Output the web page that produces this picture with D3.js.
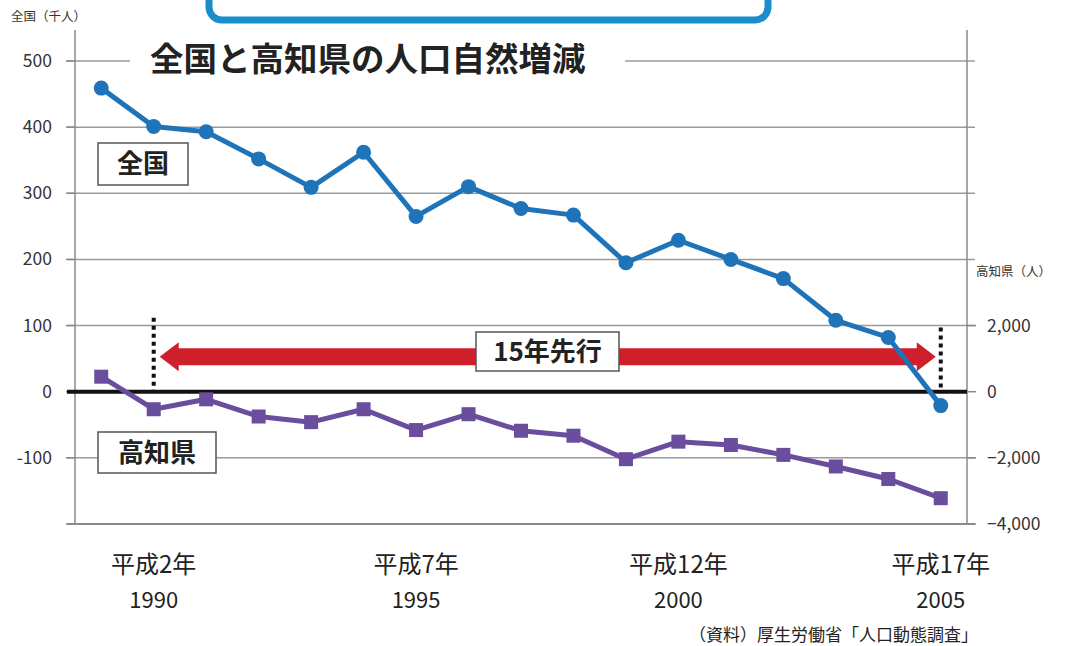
<!DOCTYPE html>
<html>
<head>
<meta charset="utf-8">
<script src="https://cdn.jsdelivr.net/npm/d3@7"></script>
<style>
  body { margin: 0; background: #fff; }
  svg { display: block; font-family: "Noto Sans CJK JP", "Noto Sans", sans-serif; }
</style>
</head>
<body>
<div id="chart"></div>
<script>
// data
var years = [1989, 1990, 1991, 1992, 1993, 1994, 1995, 1996, 1997, 1998, 1999, 2000, 2001, 2002, 2003, 2004, 2005];
var japanNat = [459, 401, 393, 352, 309, 362, 265, 310, 277, 267, 195, 229, 200, 171, 108, 82, -21];      // 千人
var kochiNat = [454, -530, -230, -750, -920, -530, -1160, -680, -1180, -1330, -2040, -1510, -1610, -1910, -2260, -2640, -3220]; // 人
var tickYears = [1990, 1995, 2000, 2005];
var tickEra = ["平成2年", "平成7年", "平成12年", "平成17年"];
var leftTicks = [500, 400, 300, 200, 100, 0, -100];
var leftMarks = [500, 400, 300, 200, 100, 0, -100, -200];
var rightTicks = [2000, 0, -2000, -4000];

var width = 1065, height = 646;
var plotL = 75, plotR = 967, plotT = 61, plotB = 524;

var svg = d3.select('#chart').append('svg')
  .attr('width', width)
  .attr('height', height);

var x = d3.scalePoint().domain(years).range([plotL, plotR]).padding(0.5);
var yL = d3.scaleLinear().domain([-200, 500]).range([plotB, plotT]);
var yR = d3.scaleLinear().domain([-4000, 10000]).range([plotB, plotT]);

var blue = "#1f74b9", purple = "#6b4d9e", red = "#cf1f2b";

// blue box at top (cut off)
svg.append('rect')
  .attr('x', 209).attr('y', -30).attr('width', 559).attr('height', 50)
  .attr('rx', 13)
  .attr('fill', 'none').attr('stroke', '#1c8dcc').attr('stroke-width', 7);

// gridlines
svg.selectAll('.grid').data([500, 400, 300, 200, 100, -100]).enter().append('line')
  .attr('class', 'grid')
  .attr('x1', plotL - 8).attr('x2', plotR + 8)
  .attr('y1', function (d) { return yL(d); })
  .attr('y2', function (d) { return yL(d); })
  .attr('stroke', '#9a9a9a').attr('stroke-width', 1.5);

// axes lines
svg.append('line').attr('x1', plotL).attr('x2', plotL).attr('y1', 30).attr('y2', plotB)
  .attr('stroke', '#8a8a8a').attr('stroke-width', 1.5);
svg.append('line').attr('x1', plotR).attr('x2', plotR).attr('y1', 30).attr('y2', plotB)
  .attr('stroke', '#8a8a8a').attr('stroke-width', 1.5);
svg.append('line').attr('x1', plotL - 8).attr('x2', plotR + 8).attr('y1', plotB).attr('y2', plotB)
  .attr('stroke', '#8a8a8a').attr('stroke-width', 2);

svg.selectAll('.ltick').data(leftMarks).enter().append('line')
  .attr('x1', plotL - 9).attr('x2', plotL)
  .attr('y1', function (d) { return yL(d); })
  .attr('y2', function (d) { return yL(d); })
  .attr('stroke', '#8a8a8a').attr('stroke-width', 1.5);
svg.selectAll('.rtick').data(rightTicks).enter().append('line')
  .attr('x1', plotR).attr('x2', plotR + 9)
  .attr('y1', function (d) { return yR(d); })
  .attr('y2', function (d) { return yR(d); })
  .attr('stroke', '#8a8a8a').attr('stroke-width', 1.5);

// tick labels
svg.selectAll('.llab').data(leftTicks).enter().append('text')
  .attr('x', 52).attr('y', function (d) { return yL(d) + 6; })
  .attr('text-anchor', 'end').attr('font-size', 17.5).attr('fill', '#333')
  .text(function (d) { return d; });
svg.selectAll('.rlab').data(rightTicks).enter().append('text')
  .attr('x', 987).attr('y', function (d) { return yR(d) + 6; })
  .attr('font-size', 17.5).attr('fill', '#333')
  .text(function (d) { return d3.format(',')(d); });

svg.append('text').attr('x', 11).attr('y', 21).attr('font-size', 12.5).attr('fill', '#333')
  .text('全国（千人）');
svg.append('text').attr('x', 976).attr('y', 276).attr('font-size', 12.5).attr('fill', '#333')
  .text('高知県（人）');

// title with white backing over the top gridline
svg.append('rect').attr('x', 130).attr('y', 38).attr('width', 495).attr('height', 44).attr('fill', '#fff');
svg.append('text').attr('x', 150).attr('y', 71)
  .attr('font-size', 33.5).attr('font-weight', 'bold').attr('fill', '#222')
  .text('全国と高知県の人口自然増減');

// zero line
svg.append('line').attr('x1', plotL - 8).attr('x2', plotR).attr('y1', yL(0)).attr('y2', yL(0))
  .attr('stroke', '#111').attr('stroke-width', 4);

// double arrow
var ay = yL(53), ax1 = x(1990) + 6, ax2 = x(2005) - 5, sh = 8.5, hh = 14.5, hl = 19;
svg.append('polygon')
  .attr('points', [
    [ax1, ay], [ax1 + hl, ay - hh], [ax1 + hl, ay - sh], [ax2 - hl, ay - sh], [ax2 - hl, ay - hh],
    [ax2, ay], [ax2 - hl, ay + hh], [ax2 - hl, ay + sh], [ax1 + hl, ay + sh], [ax1 + hl, ay + hh]
  ].map(function (p) { return p.join(','); }).join(' '))
  .attr('fill', red);

// dotted markers
svg.append('line').attr('x1', x(1990)).attr('x2', x(1990)).attr('y1', yL(112)).attr('y2', yL(0))
  .attr('stroke', '#111').attr('stroke-width', 4).attr('stroke-dasharray', '4,4');
svg.append('line').attr('x1', x(2005)).attr('x2', x(2005)).attr('y1', yL(97)).attr('y2', yL(0))
  .attr('stroke', '#111').attr('stroke-width', 4).attr('stroke-dasharray', '4,4');

// label boxes
function labelBox(bx, by, bw, bh, txt) {
  svg.append('rect').attr('x', bx).attr('y', by).attr('width', bw).attr('height', bh)
    .attr('fill', '#fff').attr('stroke', '#555').attr('stroke-width', 1.5);
  svg.append('text').attr('x', bx + bw / 2).attr('y', by + bh / 2 + 9)
    .attr('text-anchor', 'middle').attr('font-size', 26).attr('font-weight', 'bold').attr('fill', '#222')
    .text(txt);
}
labelBox(98, 143, 90, 42, '全国');
labelBox(98, 432, 118, 41, '高知県');
labelBox(476, 332, 143, 39, '15年先行');

// series
var lineL = d3.line().x(function (d, i) { return x(years[i]); }).y(function (d) { return yL(d); });
var lineR = d3.line().x(function (d, i) { return x(years[i]); }).y(function (d) { return yR(d); });

svg.append('path').datum(kochiNat).attr('d', lineR)
  .attr('fill', 'none').attr('stroke', purple).attr('stroke-width', 5).attr('stroke-linejoin', 'round');
svg.selectAll('.sq').data(kochiNat).enter().append('rect')
  .attr('x', function (d, i) { return x(years[i]) - 7; })
  .attr('y', function (d) { return yR(d) - 7; })
  .attr('width', 14).attr('height', 14)
  .attr('fill', purple);

svg.append('path').datum(japanNat).attr('d', lineL)
  .attr('fill', 'none').attr('stroke', blue).attr('stroke-width', 5).attr('stroke-linejoin', 'round');
svg.selectAll('.dot').data(japanNat).enter().append('circle')
  .attr('cx', function (d, i) { return x(years[i]); })
  .attr('cy', function (d) { return yL(d); })
  .attr('r', 7.5)
  .attr('fill', blue);

// x labels
svg.selectAll('.era').data(tickYears).enter().append('text')
  .attr('x', function (d) { return x(d); }).attr('y', 573)
  .attr('text-anchor', 'middle').attr('font-size', 24).attr('fill', '#222')
  .text(function (d, i) { return tickEra[i]; });
svg.selectAll('.yr').data(tickYears).enter().append('text')
  .attr('x', function (d) { return x(d); }).attr('y', 608)
  .attr('text-anchor', 'middle').attr('font-size', 22).attr('fill', '#222')
  .text(function (d) { return d; });

svg.append('text').attr('x', 978).attr('y', 641)
  .attr('text-anchor', 'end').attr('font-size', 17).attr('fill', '#222')
  .text('（資料）厚生労働省「人口動態調査」');
</script>
</body>
</html>
